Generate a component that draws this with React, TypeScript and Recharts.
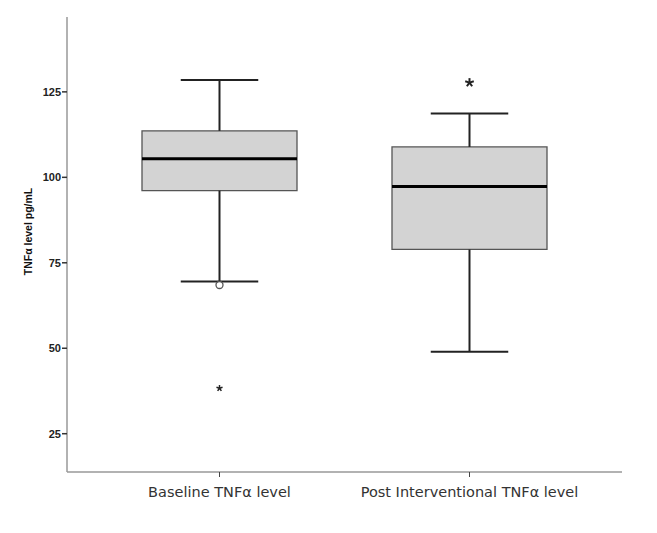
import React from 'react';
import {
  ComposedChart, XAxis, YAxis, Scatter, ReferenceArea, ReferenceLine
} from 'recharts';

const categories = ['Baseline TNFα level', 'Post Interventional TNFα level'];
const positions = [1, 2];
const whiskerLow = [69.5, 49.0];
const q1 = [96.1, 78.9];
const median = [105.4, 97.3];
const q3 = [113.6, 108.9];
const whiskerHigh = [128.5, 118.7];
const yTicks = [25, 50, 75, 100, 125];

// outliers: circle = mild, star = extreme
const mildOutliers = [{ x: 1, y: 68.5 }];
const extremeOutliers = [{ x: 1, y: 38.3, big: false }, { x: 2, y: 127.7, big: true }];

const BOX_HALF = 0.31;
const CAP_HALF = 0.155;

const CircleShape: React.FC<any> = ({ cx, cy }) => (
  <circle cx={cx} cy={cy} r={3.5} fill="#fff" stroke="#555" strokeWidth={1.3} />
);

const StarShape: React.FC<any> = ({ cx, cy, payload }) => {
  const r = payload && payload.big ? 4.5 : 3.2;
  const sw = payload && payload.big ? 2 : 1.5;
  const arms = [0, 1, 2, 3, 4].map((i) => {
    const a = (-90 + i * 72) * Math.PI / 180;
    return <line key={i} x1={cx} y1={cy} x2={cx + r * Math.cos(a)} y2={cy + r * Math.sin(a)} stroke="#222" strokeWidth={sw} />;
  });
  return <g>{arms}</g>;
};

const YLabel: React.FC<any> = ({ viewBox }) => {
  const x = viewBox.x + 20;
  const y = viewBox.y + viewBox.height / 2 - 13;
  return (
    <text x={x} y={y} transform={`rotate(-90, ${x}, ${y})`} textAnchor="middle" dominantBaseline="central"
      style={{ fontFamily: 'Liberation Sans, Arial, sans-serif', fontWeight: 'bold', fontSize: 10.5, fill: '#111' }}>
      TNFα level pg/mL
    </text>
  );
};

const XTick: React.FC<any> = ({ x, y, payload }) => (
  <text x={x} y={y + 13} textAnchor="middle" dominantBaseline="central"
    style={{ fontFamily: 'DejaVu Sans, sans-serif', fontSize: 14.5, fill: '#333' }}>
    {categories[payload.value - 1]}
  </text>
);

export default function App() {
  return (
    <ComposedChart width={649} height={525} margin={{ top: 9, right: 35, left: 0, bottom: 31 }}>
      <XAxis
        type="number"
        dataKey="x"
        domain={[0.39, 2.61]}
        ticks={positions}
        tickSize={5}
        height={30}
        axisLine={{ stroke: '#999', strokeWidth: 1.5 }}
        tickLine={{ stroke: '#444', strokeWidth: 1 }}
        tick={<XTick />}
        allowDataOverflow
      />
      <YAxis
        type="number"
        dataKey="y"
        domain={[13.8, 146.9]}
        ticks={yTicks}
        width={59}
        tickSize={5}
        tickMargin={1}
        axisLine={{ stroke: '#999', strokeWidth: 1.5 }}
        tickLine={{ stroke: '#333', strokeWidth: 1.5 }}
        tick={{ fontFamily: 'Liberation Sans, Arial, sans-serif', fontWeight: 'bold', fontSize: 11, fill: '#222' }}
        label={<YLabel />}
        allowDataOverflow
      />
      {positions.map((p, i) => (
        <ReferenceArea key={`box${i}`} x1={p - BOX_HALF} x2={p + BOX_HALF} y1={q1[i]} y2={q3[i]}
          fill="#d3d3d3" fillOpacity={1} stroke="#555" strokeWidth={1.3} ifOverflow="visible" />
      ))}
      {positions.map((p, i) => (
        <ReferenceLine key={`wl${i}`} segment={[{ x: p, y: whiskerLow[i] }, { x: p, y: q1[i] }]} stroke="#222" strokeWidth={2} ifOverflow="visible" />
      ))}
      {positions.map((p, i) => (
        <ReferenceLine key={`wh${i}`} segment={[{ x: p, y: q3[i] }, { x: p, y: whiskerHigh[i] }]} stroke="#222" strokeWidth={2} ifOverflow="visible" />
      ))}
      {positions.map((p, i) => (
        <ReferenceLine key={`cl${i}`} segment={[{ x: p - CAP_HALF, y: whiskerLow[i] }, { x: p + CAP_HALF, y: whiskerLow[i] }]} stroke="#222" strokeWidth={2} ifOverflow="visible" />
      ))}
      {positions.map((p, i) => (
        <ReferenceLine key={`ch${i}`} segment={[{ x: p - CAP_HALF, y: whiskerHigh[i] }, { x: p + CAP_HALF, y: whiskerHigh[i] }]} stroke="#222" strokeWidth={2} ifOverflow="visible" />
      ))}
      {positions.map((p, i) => (
        <ReferenceLine key={`md${i}`} segment={[{ x: p - BOX_HALF, y: median[i] }, { x: p + BOX_HALF, y: median[i] }]} stroke="#000" strokeWidth={3} ifOverflow="visible" />
      ))}
      <Scatter data={mildOutliers} shape={<CircleShape />} isAnimationActive={false} />
      <Scatter data={extremeOutliers} shape={<StarShape />} isAnimationActive={false} />
    </ComposedChart>
  );
}
